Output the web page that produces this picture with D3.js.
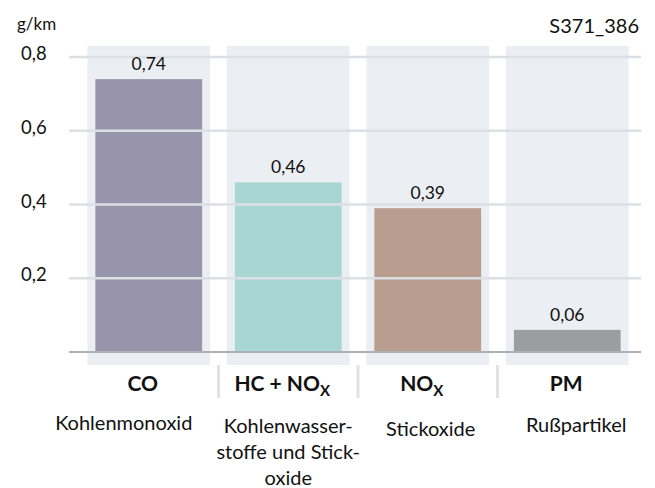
<!DOCTYPE html>
<html>
<head>
<meta charset="utf-8">
<script src="https://cdn.jsdelivr.net/npm/d3@7/dist/d3.min.js"></script>
<style>
  html, body { margin: 0; padding: 0; background: #ffffff; }
  svg { display: block; font-family: "Lato", "Noto Sans", sans-serif; }
</style>
</head>
<body>
<svg id="chart" width="655" height="488"></svg>
<script>
// Emission limits (g/km) per pollutant
const categories = ["CO", "HC + NOX", "NOX", "PM"];
const values = [0.74, 0.46, 0.39, 0.06];
const valueLabels = ["0,74", "0,46", "0,39", "0,06"];
const descriptions = [
  ["Kohlenmonoxid"],
  ["Kohlenwasser-", "stoffe und Stick-", "oxide"],
  ["Stickoxide"],
  ["Rußpartikel"]
];
const yTicks = [0.2, 0.4, 0.6, 0.8];
const yTickLabels = ["0,2", "0,4", "0,6", "0,8"];
const barColors = ["#9894ab", "#a7d6d3", "#b99e90", "#9b9ea1"];
const unitLabel = "g/km";
const figureId = "S371_386";

const svg = d3.select("#chart");

const x = d3.scaleBand()
  .domain(categories)
  .range([79, 637])
  .paddingInner(0.12)
  .paddingOuter(0.06);

const y = d3.scaleLinear()
  .domain([0, 0.8])
  .range([352, 57]);

// background panels behind each category
svg.append("g").selectAll("rect")
  .data(categories)
  .join("rect")
  .attr("x", d => x(d))
  .attr("width", x.bandwidth())
  .attr("y", 46)
  .attr("height", 365 - 46)
  .attr("fill", "#ebeef2");

// bars
const barInset = 8;
svg.append("g").selectAll("rect")
  .data(categories)
  .join("rect")
  .attr("x", d => x(d) + barInset)
  .attr("width", x.bandwidth() - 2 * barInset)
  .attr("y", (d, i) => y(values[i]))
  .attr("height", (d, i) => y(0) - y(values[i]))
  .attr("fill", (d, i) => barColors[i]);

// horizontal gridlines, drawn over the bars
svg.append("g").selectAll("line")
  .data(yTicks)
  .join("line")
  .attr("x1", 69).attr("x2", 641)
  .attr("y1", d => y(d)).attr("y2", d => y(d))
  .attr("stroke", "#dcdfe4")
  .attr("stroke-width", 2.5);

// baseline
svg.append("line")
  .attr("x1", 69).attr("x2", 641)
  .attr("y1", y(0)).attr("y2", y(0))
  .attr("stroke", "#adb0b5")
  .attr("stroke-width", 2);

// y axis tick labels
svg.append("g").selectAll("text")
  .data(yTicks)
  .join("text")
  .attr("x", 21)
  .attr("y", d => y(d) + 3)
  .attr("font-size", 18.5)
  .attr("fill", "#111")
  .text((d, i) => yTickLabels[i]);

svg.append("text")
  .attr("x", 17).attr("y", 30)
  .attr("font-size", 17)
  .attr("fill", "#111")
  .text(unitLabel);

svg.append("text")
  .attr("x", 639).attr("y", 33)
  .attr("text-anchor", "end")
  .attr("font-size", 20)
  .attr("fill", "#111")
  .text(figureId);

// value labels above bars
svg.append("g").selectAll("text")
  .data(categories)
  .join("text")
  .attr("x", d => x(d) + x.bandwidth() / 2)
  .attr("y", (d, i) => y(values[i]) - 9)
  .attr("text-anchor", "middle")
  .attr("font-size", 17.5)
  .attr("fill", "#111")
  .text((d, i) => valueLabels[i]);

// separators between category headings
svg.append("g").selectAll("line")
  .data(categories.slice(1))
  .join("line")
  .attr("x1", d => x(d) - x.step() * 0.06)
  .attr("x2", d => x(d) - x.step() * 0.06)
  .attr("y1", 365).attr("y2", 398)
  .attr("stroke", "#dfe2e6")
  .attr("stroke-width", 3);

// category headings with subscript X
const headDx = [-6, -6, -6, -1];
const heads = svg.append("g").selectAll("text")
  .data(categories)
  .join("text")
  .attr("x", (d, i) => x(d) + x.bandwidth() / 2 + headDx[i])
  .attr("y", 391)
  .attr("text-anchor", "middle")
  .attr("font-size", 21)
  .attr("font-weight", "bold")
  .attr("fill", "#111");

heads.each(function(d) {
  const t = d3.select(this);
  if (d.endsWith("NOX")) {
    t.append("tspan").text(d.slice(0, -1));
    t.append("tspan").attr("font-size", 15).attr("dy", 5).text("X");
  } else {
    t.text(d);
  }
});

// descriptive names below headings
const descY = [430, 433, 436, 432];
const descDx = [-25, 0, 3, 9];
svg.append("g").selectAll("text")
  .data(categories)
  .join("text")
  .attr("x", (d, i) => x(d) + x.bandwidth() / 2 + descDx[i])
  .attr("y", (d, i) => descY[i])
  .attr("text-anchor", "middle")
  .attr("font-size", 20)
  .attr("fill", "#111")
  .each(function(d, i) {
    const t = d3.select(this);
    const cx = +t.attr("x");
    descriptions[i].forEach((line, j) => {
      t.append("tspan")
        .attr("x", cx)
        .attr("dy", j === 0 ? 0 : 26)
        .text(line);
    });
  });
</script>
</body>
</html>
